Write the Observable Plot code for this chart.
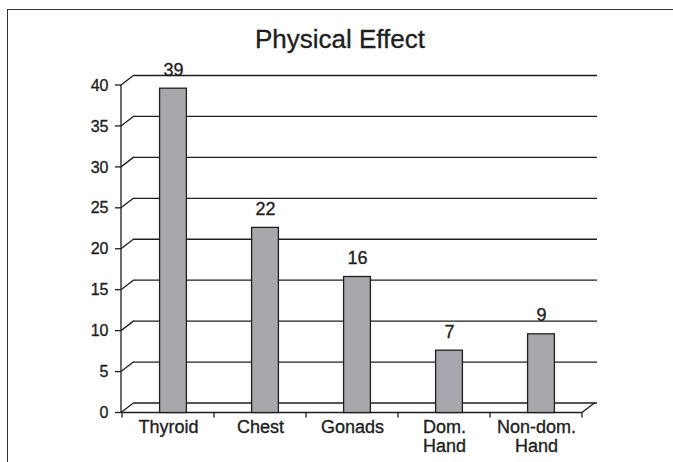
<!DOCTYPE html>
<html>
<head>
<meta charset="utf-8">
<script src="https://cdn.jsdelivr.net/npm/d3@7"></script>
<script src="https://cdn.jsdelivr.net/npm/@observablehq/plot@0.6"></script>
<style>
  html, body { margin: 0; padding: 0; background: #fff; }
  #wrap { position: relative; width: 673px; height: 462px; overflow: hidden; }
  #border { position: absolute; left: 7px; top: 9px; width: 800px; height: 600px;
            border-left: 1.5px solid #333; border-top: 1.5px solid #333; }
  #chart { position: absolute; left: 0; top: 0; }
</style>
</head>
<body>
<div id="wrap"><div id="border"></div><div id="chart"></div></div>
<script>
const title = "Physical Effect";
const categories = ["Thyroid", "Chest", "Gonads", "Dom.\nHand", "Non-dom.\nHand"];
const values = [39, 22, 16, 7, 9];
const yTicks = [0, 5, 10, 15, 20, 25, 30, 35, 40];

const data = categories.map((c, i) => ({category: c, value: values[i]}));

const INK = "#1e1e1e";
const BAR = "#a7a8ab";
const FONT = "'Liberation Sans', Arial, Helvetica, sans-serif";
const DEPTH_X = 13, DEPTH_Y = -10;
const TEXT_STROKE = 0.35;

function frame3d(index, scales, values, dimensions) {
  const {x, y} = scales;
  const x0 = dimensions.marginLeft;
  const xN = dimensions.width - dimensions.marginRight;
  const g = d3.create("svg:g")
    .attr("stroke", INK).attr("stroke-width", 1.3).attr("fill", "none");
  // front y axis line
  g.append("line").attr("x1", x0).attr("x2", x0)
    .attr("y1", y(0)).attr("y2", y(yTicks[yTicks.length - 1]));
  for (const t of yTicks) {
    // tick mark
    g.append("line").attr("x1", x0 - 6).attr("x2", x0).attr("y1", y(t)).attr("y2", y(t));
    // diagonal to the back wall
    g.append("line").attr("x1", x0).attr("y1", y(t))
      .attr("x2", x0 + DEPTH_X).attr("y2", y(t) + DEPTH_Y);
  }
  // front baseline
  g.append("line").attr("x1", x0).attr("x2", xN).attr("y1", y(0)).attr("y2", y(0));
  // right floor diagonal
  g.append("line").attr("x1", xN).attr("y1", y(0))
    .attr("x2", xN + DEPTH_X).attr("y2", y(0) + DEPTH_Y);
  // category boundary ticks
  const bounds = categories.map(c => x(c)).concat([xN]);
  for (const b of bounds) {
    g.append("line").attr("x1", b).attr("x2", b).attr("y1", y(0)).attr("y2", y(0) + 5);
  }
  return g.node();
}

const chart = Plot.plot({
  width: 673,
  height: 462,
  marginLeft: 121,
  marginRight: 91,
  marginTop: 85,
  marginBottom: 49.5,
  style: {fontFamily: FONT, color: INK, background: "transparent", overflow: "visible"},
  x: {domain: categories, padding: 0, axis: null},
  y: {domain: [0, 40], axis: null},
  marks: [
    // back-wall gridlines
    Plot.ruleY(yTicks, {dy: DEPTH_Y, insetLeft: DEPTH_X, insetRight: -DEPTH_X - 2, stroke: INK, strokeWidth: 1.3}),
    frame3d,
    Plot.text(yTicks, {y: d => d, text: d => String(d), frameAnchor: "left", dx: -13, textAnchor: "end",
      fontSize: 16, fill: INK, stroke: INK, strokeWidth: TEXT_STROKE}),
    Plot.barY(data, {x: "category", y: "value", fill: BAR, stroke: INK, strokeWidth: 1.3,
      insetLeft: 32.6, insetRight: 32.6, dx: 5, dy: -5, insetBottom: -5}),
    Plot.text(data, {x: "category", y: "value", text: d => String(d.value), dx: 5, dy: -18,
      lineAnchor: "bottom", fontSize: 18, fill: INK, stroke: INK, strokeWidth: TEXT_STROKE}),
    Plot.text(data, {x: "category", y: () => 0, text: "category", lineAnchor: "top",
      lineHeight: 1.1, dy: 5.5, fontSize: 18, fill: INK, stroke: INK, strokeWidth: TEXT_STROKE}),
    Plot.text([title], {frameAnchor: "top", dx: -12, dy: -38, lineAnchor: "bottom",
      fontSize: 26, fill: INK, stroke: INK, strokeWidth: TEXT_STROKE})
  ]
});
document.getElementById("chart").appendChild(chart);
</script>
</body>
</html>
